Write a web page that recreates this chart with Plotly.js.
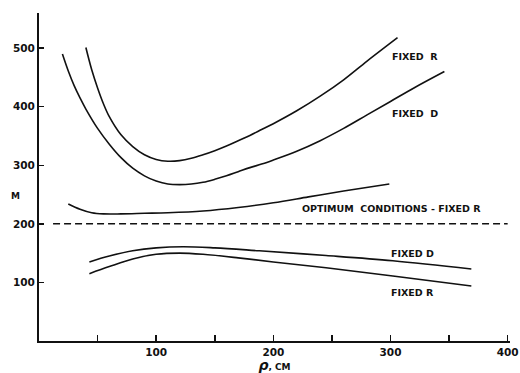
<!DOCTYPE html>
<html>
<head>
<meta charset="utf-8">
<script src="https://cdn.plot.ly/plotly-3.0.1.min.js"></script>
<style>html,body{margin:0;padding:0;background:#fff;}#chart{width:520px;height:373px;}</style>
</head>
<body>
<div id="chart"></div>
<script>
// Upper "FIXED R" curve
const upperRx = [40, 45, 50, 55, 60, 70, 80, 90, 100, 110, 120, 130, 140, 150, 160, 170, 180, 190, 200, 220, 240, 260, 280, 306];
const upperRy = [501, 463, 432, 405, 383, 352, 332, 318, 310, 307, 308, 312, 318, 325, 333, 342, 351, 361, 371, 393, 418, 446, 478, 518];
// Upper "FIXED D" curve
const upperDx = [20, 25, 30, 35, 40, 50, 60, 70, 80, 90, 100, 110, 120, 130, 140, 150, 160, 170, 180, 190, 200, 220, 240, 260, 280, 300, 320, 346];
const upperDy = [490, 461, 436, 415, 396, 363, 336, 313, 295, 282, 273, 268, 267, 268, 271, 276, 282, 289, 296, 302, 309, 324, 342, 363, 386, 409, 432, 460];
// Curve above the optimum line
const optX = [25, 35, 45, 55, 70, 90, 110, 140, 170, 200, 230, 260, 299];
const optY = [234, 225, 219, 217, 217, 218, 219, 222, 228, 236, 246, 256, 268];
// Optimum conditions - fixed R (dashed)
const dashX = [12, 400];
const dashY = [200, 200];
// Lower "FIXED D" curve
const lowerDx = [43, 60, 80, 100, 123, 150, 188, 245, 302, 369];
const lowerDy = [135, 145, 154, 159, 161, 159, 154, 146, 137, 123];
// Lower "FIXED R" curve
const lowerRx = [43, 60, 80, 100, 120, 140, 170, 200, 245, 302, 369];
const lowerRy = [115, 127, 140, 148, 150, 148, 142, 135, 125, 111, 94];

const xTickVals = [50, 100, 150, 200, 250, 300, 350, 400];
const xTickText = ['', '100', '', '200', '', '300', '', '400'];
const yTickVals = [100, 200, 300, 400, 500];
const yTickText = ['100', '200', '300', '400', '500'];

const labels = [
  {x: 302, y: 485, text: 'FIXED  R'},
  {x: 302, y: 388, text: 'FIXED  D'},
  {x: 225, y: 227, text: 'OPTIMUM  CONDITIONS - FIXED R'},
  {x: 301, y: 149, text: 'FIXED D'},
  {x: 301, y: 82, text: 'FIXED R'}
];

const lineStyle = {color: '#111', width: 1.6, shape: 'spline', smoothing: 1.0};
function tr(x, y, extra) {
  return Object.assign({x: x, y: y, mode: 'lines', type: 'scatter', hoverinfo: 'skip',
    line: Object.assign({}, lineStyle, extra || {})});
}
const data = [
  tr(upperRx, upperRy),
  tr(upperDx, upperDy),
  tr(optX, optY),
  tr(dashX, dashY, {dash: '7px,4px', shape: 'linear', width: 1.5}),
  tr(lowerDx, lowerDy),
  tr(lowerRx, lowerRy)
];

const fontFam = 'DejaVu Sans, sans-serif';
const annotations = labels.map(l => ({
  x: l.x, y: l.y, xref: 'x', yref: 'y', text: l.text, showarrow: false,
  xanchor: 'left', yanchor: 'middle', xshift: -3,
  font: {family: fontFam, size: 9.5, color: '#111', weight: 'bold'}
}));
annotations.push({
  x: 0, y: 248, xref: 'paper', yref: 'y', text: 'M', showarrow: false,
  xanchor: 'right', xshift: -17, yanchor: 'middle',
  font: {family: fontFam, size: 9, color: '#111', weight: 'bold'}
});

const layout = {
  width: 520, height: 373,
  margin: {l: 39, r: 10, t: 13, b: 32},
  paper_bgcolor: '#fff', plot_bgcolor: '#fff',
  showlegend: false,
  xaxis: {
    range: [0, 402], showgrid: false, zeroline: false,
    showline: true, linecolor: '#111', linewidth: 2,
    ticks: 'inside', ticklen: 6, tickwidth: 1.5, tickcolor: '#111',
    tickmode: 'array', tickvals: xTickVals, ticktext: xTickText,
    tickfont: {family: fontFam, size: 10.5, color: '#111', weight: 'bold'},
    title: {text: '<i><span style="font-size:14px">ρ</span></i>, CM', standoff: 1,
      font: {family: fontFam, size: 9, color: '#111', weight: 'bold'}}
  },
  yaxis: {
    range: [0, 560], showgrid: false, zeroline: false,
    showline: true, linecolor: '#111', linewidth: 2,
    ticks: 'inside', ticklen: 5, tickwidth: 1.5, tickcolor: '#111',
    tickmode: 'array', tickvals: yTickVals, ticktext: yTickText,
    tickfont: {family: fontFam, size: 10.5, color: '#111', weight: 'bold'}
  },
  annotations: annotations
};

Plotly.newPlot('chart', data, layout, {staticPlot: true, displayModeBar: false});
</script>
</body>
</html>
